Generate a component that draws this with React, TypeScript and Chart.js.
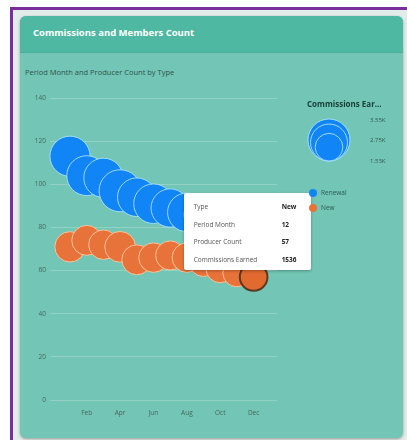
import React, { useEffect, useRef, useState } from "react";
import { Chart, registerables } from "chart.js";

Chart.register(...registerables);

// ---------- data ----------
const months = [1, 2, 3, 4, 5, 6, 7, 8, 9, 10, 11, 12];
const monthNames = ["Jan", "Feb", "Mar", "Apr", "May", "Jun", "Jul", "Aug", "Sep", "Oct", "Nov", "Dec"];
const renewalCount = [113, 104, 103, 97, 94, 91, 89, 87, 86, 85, 83, 82];
const newCount = [71, 74, 72, 71, 65, 66, 67, 66, 64, 61, 59, 57];
const renewalCommission = [3250, 3200, 3100, 3550, 3000, 3150, 2950, 3000, 3050, 2900, 2950, 2900];
const newCommission = [1850, 1800, 1750, 1900, 1800, 1750, 1700, 1750, 1700, 1650, 1600, 1536];
const yTickValues = [0, 20, 40, 60, 80, 100, 120, 140];
const xTickMonths = [2, 4, 6, 8, 10, 12];
const sizeLegendValues = [3550, 2750, 1536];
const sizeLegendLabels = ["3.55K", "2.75K", "1.53K"];
const seriesNames = ["Renewal", "New"];
const activePoint = { dataset: 1, index: 11 };

// ---------- style ----------
const FONT = "'Open Sans', 'Noto Sans', sans-serif";
const BLUE = "#1185f6";
const BLUE_BORDER = "rgba(170,225,255,0.9)";
const ORANGE = "#e8733a";
const ORANGE_BORDER = "rgba(255,200,160,0.9)";
const MAX_R = 21;
const rOf = (c: number) => MAX_R * Math.sqrt(c / sizeLegendValues[0]);

type Tip = { left: number; top: number; rows: [string, string][] } | null;

export default function App() {
  const canvasRef = useRef<HTMLCanvasElement | null>(null);
  const [tip, setTip] = useState<Tip>(null);

  useEffect(() => {
    const canvas = canvasRef.current;
    if (!canvas) return;
    const counts = [renewalCount, newCount];
    const comms = [renewalCommission, newCommission];
    const chart = new Chart(canvas, {
      type: "bubble",
      data: {
        datasets: [
          {
            label: seriesNames[0],
            data: months.map((m, i) => ({ x: m, y: renewalCount[i], r: rOf(renewalCommission[i]) })),
            backgroundColor: BLUE,
            borderColor: BLUE_BORDER,
            borderWidth: 1,
            hoverBackgroundColor: BLUE,
            hoverBorderColor: BLUE_BORDER,
            hoverBorderWidth: 1,
            hoverRadius: 0,
          },
          {
            label: seriesNames[1],
            data: months.map((m, i) => ({ x: m, y: newCount[i], r: rOf(newCommission[i]) })),
            backgroundColor: ORANGE,
            borderColor: ORANGE_BORDER,
            borderWidth: 1,
            hoverBackgroundColor: "#e06a30",
            hoverBorderColor: "#5a3a22",
            hoverBorderWidth: 2,
            hoverRadius: 0,
          },
        ],
      },
      options: {
        animation: false,
        responsive: false,
        maintainAspectRatio: false,
        layout: { autoPadding: false, padding: { top: 13, right: 33, left: 0, bottom: 0 } },
        clip: false as any,
        plugins: {
          legend: { display: false },
          title: { display: false },
          tooltip: {
            enabled: false,
            external: ({ chart: c, tooltip }: any) => {
              if (!tooltip || tooltip.opacity === 0 || !tooltip.dataPoints || !tooltip.dataPoints.length) {
                return;
              }
              const dp = tooltip.dataPoints[0];
              const ds = dp.datasetIndex;
              const i = dp.dataIndex;
              setTip({
                left: tooltip.caretX - 70,
                top: tooltip.caretY - 84,
                rows: [
                  ["Type", String(c.data.datasets[ds].label)],
                  ["Period Month", String(months[i])],
                  ["Producer Count", String(counts[ds][i])],
                  ["Commissions Earned", String(comms[ds][i])],
                ],
              });
            },
          },
        },
        scales: {
          x: {
            type: "linear",
            min: -0.2,
            max: 13.4,
            afterBuildTicks: (s: any) => {
              s.ticks = xTickMonths.map((v) => ({ value: v }));
            },
            afterFit: (s: any) => {
              s.height = 25;
            },
            grid: { display: false, drawTicks: false },
            border: { display: false },
            ticks: {
              padding: 9,
              color: "#46665f",
              font: { family: FONT, size: 6.5 },
              callback: (v: any) => monthNames[Number(v) - 1] ?? "",
            },
          },
          y: {
            type: "linear",
            min: 0,
            max: 140,
            afterBuildTicks: (s: any) => {
              s.ticks = yTickValues.map((v) => ({ value: v }));
            },
            afterFit: (s: any) => {
              s.width = 30;
            },
            grid: { color: "rgba(255,255,255,0.22)", lineWidth: 1, drawTicks: false },
            border: { display: false },
            ticks: {
              padding: 4,
              color: "#46665f",
              font: { family: FONT, size: 6.5 },
            },
          },
        },
      },
    } as any);

    const meta = chart.getDatasetMeta(activePoint.dataset);
    const el: any = meta.data[activePoint.index];
    const active = [{ datasetIndex: activePoint.dataset, index: activePoint.index }];
    chart.tooltip?.setActiveElements(active, { x: el.x, y: el.y });
    chart.setActiveElements(active);
    chart.update();

    return () => chart.destroy();
  }, []);

  const legendCx = 329;
  const legendBottom = 161;

  return (
    <div style={{ position: "absolute", left: 0, top: 0, width: 407, height: 440, overflow: "hidden", fontFamily: FONT, background: "#ffffff" }}>
      {/* outer frame */}
      <div
        style={{
          position: "absolute",
          left: 10,
          top: 7,
          width: 420,
          height: 460,
          border: "3px solid #7a2e9c",
          background: "#e2ece9",
        }}
      />
      {/* card */}
      <div
        style={{
          position: "absolute",
          left: 20,
          top: 16,
          width: 383,
          height: 422,
          borderRadius: 6,
          background: "#73c6b5",
          boxShadow: "0 1px 3px rgba(0,0,0,0.35)",
          overflow: "hidden",
        }}
      >
        <div
          style={{
            position: "absolute",
            left: 0,
            top: 0,
            width: 383,
            height: 36,
            background: "#4fb8a2",
            borderBottom: "1px solid rgba(0,0,0,0.06)",
          }}
        />
        <div
          style={{
            position: "absolute",
            left: 13,
            top: 11,
            fontSize: 9.5,
            fontWeight: 700,
            color: "#ffffff",
            whiteSpace: "nowrap",
            lineHeight: "12px",
          }}
        >
          Commissions and Members Count
        </div>
      </div>
      {/* subtitle */}
      <div
        style={{
          position: "absolute",
          left: 25,
          top: 67,
          fontSize: 7.5,
          color: "#2f524c",
          whiteSpace: "nowrap",
          lineHeight: "10px",
        }}
      >
        Period Month and Producer Count by Type
      </div>

      {/* chart */}
      <div style={{ position: "absolute", left: 20, top: 85, width: 290, height: 340 }}>
        <canvas ref={canvasRef} width={290} height={340} style={{ width: 290, height: 340, display: "block" }} />
        {tip && (
          <div
            style={{
              position: "absolute",
              left: tip.left,
              top: tip.top,
              width: 127,
              height: 77,
              background: "#ffffff",
              borderRadius: 2,
              boxShadow: "0 1px 3px rgba(0,0,0,0.3)",
              boxSizing: "border-box",
              paddingTop: 8,
            }}
          >
            {tip.rows.map(([k, v], j) => (
              <div key={j} style={{ position: "relative", height: 17.5, fontSize: 6.5, lineHeight: "12px", whiteSpace: "nowrap" }}>
                <span style={{ position: "absolute", left: 10, color: "#555555" }}>{k}</span>
                <span style={{ position: "absolute", left: 98, color: "#222222", fontWeight: 700 }}>{v}</span>
              </div>
            ))}
          </div>
        )}
      </div>

      {/* size legend */}
      <div
        style={{
          position: "absolute",
          left: 307,
          top: 98,
          fontSize: 8,
          fontWeight: 700,
          color: "#17403a",
          whiteSpace: "nowrap",
          lineHeight: "11px",
        }}
      >
        Commissions Ear...
      </div>
      <svg style={{ position: "absolute", left: 0, top: 0 }} width={407} height={440}>
        {sizeLegendValues.map((v, i) => {
          const r = rOf(v);
          return (
            <circle
              key={i}
              cx={legendCx}
              cy={legendBottom - r}
              r={r}
              fill={BLUE}
              stroke={BLUE_BORDER}
              strokeWidth={1}
            />
          );
        })}
      </svg>
      {sizeLegendLabels.map((t, i) => (
        <div
          key={i}
          style={{
            position: "absolute",
            left: 370,
            top: [116, 136, 157][i],
            fontSize: 6,
            color: "#35564f",
            whiteSpace: "nowrap",
            lineHeight: "8px",
          }}
        >
          {t}
        </div>
      ))}
      {/* series legend */}
      {seriesNames.map((n, i) => (
        <div key={n} style={{ position: "absolute", left: 309, top: 189 + i * 15, height: 9, whiteSpace: "nowrap" }}>
          <span
            style={{
              position: "absolute",
              left: 0,
              top: 0,
              width: 8,
              height: 8,
              borderRadius: 4,
              background: i === 0 ? BLUE : ORANGE,
            }}
          />
          <span style={{ position: "absolute", left: 12, top: -1, fontSize: 6.5, color: "#2b5a50", lineHeight: "10px" }}>{n}</span>
        </div>
      ))}
    </div>
  );
}
